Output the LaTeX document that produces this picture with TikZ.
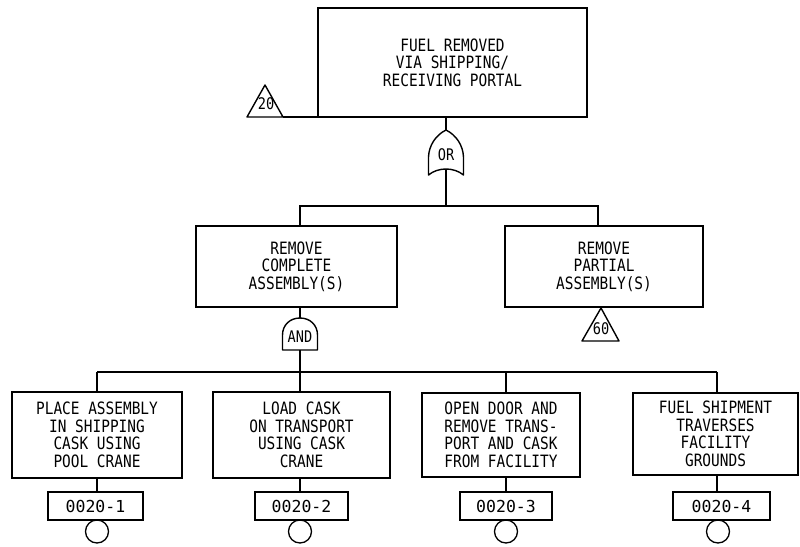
\documentclass[tikz,border=0pt]{standalone}
\usepackage{fontspec}
\newfontfamily\treefont[FakeStretch=0.85]{DejaVu Sans Mono}
\newfontfamily\codefont{DejaVu Sans Mono}
\tikzset{
  x=1pt, y=-1pt,
  every node/.style={outer sep=0pt},
  evbox/.style={draw, line width=1.8pt, inner sep=0pt, align=center,
    font=\treefont\fontsize{17}{17.5}\selectfont},
  codebox/.style={draw, line width=1.4pt, inner sep=0pt,
    font=\codefont\fontsize{16.5}{17}\selectfont},
  wire/.style={line width=1.4pt},
  gate/.style={line width=1.4pt, line join=round},
  gatelabel/.style={inner sep=0pt, font=\treefont\fontsize{16}{16}\selectfont},
  basic/.style={draw, circle, line width=1.3pt, minimum size=23pt, inner sep=0pt},
}
\begin{document}
\begin{tikzpicture}
\useasboundingbox (0,0) rectangle (800,546);

% top event
\node[evbox, minimum width=269pt, minimum height=109pt] (top) at (452.5,62.5)
  {FUEL REMOVED\\ VIA SHIPPING/\\RECEIVING PORTAL};

% transfer triangle 20
\coordinate (t20l) at (247,117);
\coordinate (t20r) at (283,117);
\coordinate (t20a) at (265,85);
\draw[gate] (t20l) -- (t20a) -- (t20r) -- cycle;
\node[gatelabel] (n20) at (266,104) {20};
\draw[wire] (t20r) -- (top.south west);

% OR gate
\coordinate (orTop) at (446,130);
\coordinate (orBot) at (446,169);
\draw[gate] (orTop) .. controls (456,135) and (463,145) .. (463.5,157)
  -- (463.5,175) .. controls (454,167) and (438,167) .. (428.5,175)
  -- (428.5,157) .. controls (429,145) and (436,135) .. (orTop) -- cycle;
\node[gatelabel] (orlab) at (446,155) {OR};
\draw[wire] (orTop) -- (orTop |- top.south);

% second level
\node[evbox, minimum width=201pt, minimum height=81pt] (cl) at (296.5,266.5)
  {REMOVE\\COMPLETE\\ASSEMBLY(S)};
\node[evbox, minimum width=198pt, minimum height=81pt] (cr) at (604,266.5)
  {REMOVE\\PARTIAL\\ASSEMBLY(S)};
\coordinate (busA) at (446,206);
\coordinate (clIn) at (300,226);
\coordinate (crIn) at (598,226);
\draw[wire] (orBot) -- (busA);
\draw[wire] (clIn) |- (busA) -| (crIn);

% transfer triangle 60
\coordinate (t60a) at (601,308);
\coordinate (t60l) at (582,341);
\coordinate (t60r) at (619,341);
\draw[gate] (t60l) -- (t60a) -- (t60r) -- cycle;
\node[gatelabel] (n60) at (601,329) {60};

% AND gate
\coordinate (andTop) at (300,318);
\coordinate (andBot) at (300,350);
\draw[gate] (282.5,350) -- (282.5,335) .. controls (282.5,325) and (290,318) .. (andTop)
  .. controls (310,318) and (317.5,325) .. (317.5,335) -- (317.5,350) -- cycle;
\node[gatelabel] (andlab) at (300,337) {AND};
\draw[wire] (andTop) -- (andTop |- cl.south);

% basic events
\node[evbox, minimum width=170pt, minimum height=86pt] (b1) at (97,435)
  {PLACE ASSEMBLY\\ IN SHIPPING\\CASK USING\\POOL CRANE};
\node[evbox, minimum width=177pt, minimum height=86pt] (b2) at (301.5,435)
  {LOAD CASK\\ON TRANSPORT\\USING CASK\\CRANE};
\node[evbox, minimum width=158pt, minimum height=84pt] (b3) at (501,435)
  {OPEN DOOR AND\\ REMOVE TRANS-\\PORT AND CASK\\FROM FACILITY};
\node[evbox, minimum width=165pt, minimum height=82pt] (b4) at (715.5,434)
  {FUEL SHIPMENT\\TRAVERSES\\FACILITY\\GROUNDS};

\coordinate (busB) at (97,372);
\coordinate (busC) at (717,372);
\draw[wire] (andBot) -- (andBot |- busB);
\draw[wire] (busB) -- (busC);
\foreach \b/\x in {b1/97, b2/300, b3/506, b4/717}
  \draw[wire] (\x,372) -- (\x,0 |- \b.north);

% identifiers and circles
\node[codebox, minimum width=95pt, minimum height=28pt] (c1) at (95.5,506) {0020-1};
\node[codebox, minimum width=93pt, minimum height=28pt] (c2) at (301.5,506) {0020-2};
\node[codebox, minimum width=92pt, minimum height=28pt] (c3) at (506,506) {0020-3};
\node[codebox, minimum width=97pt, minimum height=28pt] (c4) at (721.5,506) {0020-4};
\node[basic] (e1) at (97,531.5) {};
\node[basic] (e2) at (300,531.5) {};
\node[basic] (e3) at (506,531.5) {};
\node[basic] (e4) at (718,531.5) {};
\foreach \b/\c/\x in {b1/c1/97, b2/c2/300, b3/c3/506, b4/c4/717}
  \draw[wire] (\x,0 |- \b.south) -- (\x,0 |- \c.north);
\end{tikzpicture}
\end{document}
